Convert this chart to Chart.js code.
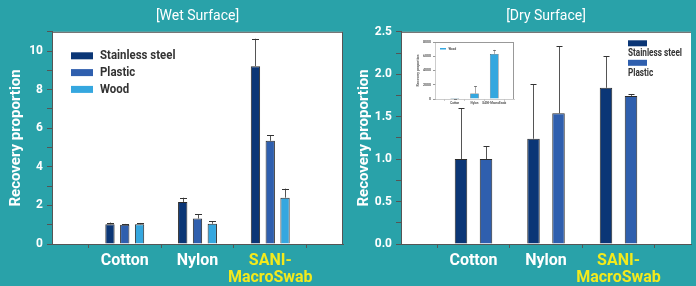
<!DOCTYPE html>
<html>
<head>
<meta charset="utf-8">
<script src="https://cdn.jsdelivr.net/npm/chart.js@4.4.1/dist/chart.umd.min.js"></script>
<style>
  html, body { margin: 0; padding: 0; background: #29a2a9; }
  #wrap { position: relative; width: 696px; height: 286px; background: #29a2a9; overflow: hidden; }
  canvas { position: absolute; }
  #wet { left: 0; top: 0; }
  #dry { left: 348px; top: 0; }
  #inset { left: 410px; top: 36px; }
</style>
</head>
<body>
<div id="wrap">
  <canvas id="wet" width="348" height="286"></canvas>
  <canvas id="dry" width="348" height="286"></canvas>
  <canvas id="inset" width="110" height="72"></canvas>
</div>
<script>
// blank slots at both ends so the three swabs sit at 1/4, 2/4, 3/4 of the axis
const categories = ['', 'Cotton', 'Nylon', ['SANI-', 'MacroSwab'], '']
const insetCategories = ['', 'Cotton', 'Nylon', 'SANI-MacroSwab', '']

const wetSteel = [null, 1.02, 2.18, 9.22, null]
const wetSteelErr = [null, 0.09, 0.22, 1.42, null]
const wetPlastic = [null, 1.0, 1.32, 5.35, null]
const wetPlasticErr = [null, 0.04, 0.23, 0.28, null]
const wetWood = [null, 1.02, 1.05, 2.4, null]
const wetWoodErr = [null, 0.07, 0.12, 0.47, null]

const drySteel = [null, 1.0, 1.24, 1.84, null]
const drySteelErr = [null, 0.6, 0.64, 0.37, null]
const dryPlastic = [null, 1.0, 1.54, 1.745, null]
const dryPlasticErr = [null, 0.15, 0.79, 0.02, null]

const dryWood = [null, 1, 760, 6330, null]
const dryWoodErr = [null, 0, 1040, 560, null]

const STEEL = '#0b3676'
const PLASTIC = '#2f5fae'
const WOOD = '#35a7df'
const AXIS = '#555555'
const FONT = 'Roboto, "DejaVu Sans", sans-serif'

// white plot background + frame lines
const plotFrame = {
  id: 'plotFrame',
  beforeDraw(chart, args, opts) {
    const { ctx, chartArea: a } = chart
    ctx.save()
    ctx.fillStyle = '#ffffff'
    ctx.fillRect(a.left, a.top, a.right - a.left, a.bottom - a.top)
    ctx.restore()
  },
  afterDraw(chart, args, opts) {
    const { ctx, chartArea: a } = chart
    ctx.save()
    ctx.strokeStyle = opts.color || AXIS
    ctx.lineWidth = 1
    ctx.beginPath()
    ctx.moveTo(a.left, a.top + 0.5)
    ctx.lineTo(a.right, a.top + 0.5)
    if (opts.right) {
      ctx.moveTo(a.right - 0.5, a.top)
      ctx.lineTo(a.right - 0.5, a.bottom)
    }
    ctx.stroke()
    ctx.restore()
  }
}

// upward error bars, read from dataset.errors
const errorBars = {
  id: 'errorBars',
  afterDatasetsDraw(chart, args, opts) {
    const { ctx } = chart
    const y = chart.scales.y
    ctx.save()
    chart.data.datasets.forEach((ds, di) => {
      const meta = chart.getDatasetMeta(di)
      if (!ds.errors || meta.hidden) return
      meta.data.forEach((bar, i) => {
        const v = ds.data[i]
        const e = ds.errors[i]
        if (v == null || e == null) return
        const top = y.getPixelForValue(v + e)
        const x = Math.round(bar.x) + 0.5
        ctx.strokeStyle = opts.lineColor
        ctx.lineWidth = opts.width
        ctx.beginPath()
        ctx.moveTo(x, bar.y)
        ctx.lineTo(x, top)
        ctx.stroke()
        ctx.strokeStyle = opts.capColor
        ctx.beginPath()
        ctx.moveTo(x - opts.cap / 2, Math.round(top) + 0.5)
        ctx.lineTo(x + opts.cap / 2, Math.round(top) + 0.5)
        ctx.stroke()
      })
    })
    ctx.restore()
  }
}

// legend drawn inside the plot area (text squeezed a bit, the original uses a condensed face)
const boxLegend = {
  id: 'boxLegend',
  afterDraw(chart, args, o) {
    const { ctx, chartArea: a } = chart
    ctx.save()
    ctx.font = o.font
    ctx.textBaseline = 'middle'
    ctx.textAlign = 'left'
    chart.data.datasets.forEach((ds, i) => {
      const bx = a.left + o.x
      const by = a.top + o.y + i * o.row
      ctx.fillStyle = ds.backgroundColor
      ctx.fillRect(bx, by, o.boxW, o.boxH)
      ctx.fillStyle = o.color
      const tx = o.below ? bx : bx + o.boxW + o.gap
      const ty = o.below ? by + o.boxH + o.gap : by + o.boxH / 2
      ctx.save()
      ctx.translate(tx, ty)
      ctx.scale(o.sx || 1, 1)
      ctx.fillText(ds.label, 0, 0)
      ctx.restore()
    })
    ctx.restore()
  }
}

function barSet(label, data, errors, color, border) {
  return {
    label: label,
    data: data,
    errors: errors,
    backgroundColor: color,
    borderColor: '#2b2b2b',
    borderWidth: border
  }
}

function mainOptions(title, max, step, major, yWidth, padRight, legend, catPct, barPct, cap) {
  return {
    responsive: false,
    animation: false,
    devicePixelRatio: 1,
    layout: { padding: { top: 0, right: padRight, left: 0, bottom: 0 } },
    datasets: { bar: { categoryPercentage: catPct, barPercentage: barPct } },
    scales: {
      x: {
        offset: false,
        afterFit: s => { s.height = 42 },
        border: { color: AXIS, width: 1 },
        grid: { display: true, drawOnChartArea: false, tickLength: 4, color: AXIS },
        ticks: {
          autoSkip: false,
          maxRotation: 0,
          padding: 5,
          color: c => c.index === 3 ? '#f3ea1c' : '#ffffff',
          font: { family: FONT, size: 16, weight: 'bold', lineHeight: 1.05 }
        }
      },
      y: {
        min: 0,
        max: max,
        afterFit: s => { s.width = yWidth },
        border: { color: AXIS, width: 1 },
        grid: { display: true, drawOnChartArea: false, tickLength: 5, color: AXIS },
        ticks: {
          stepSize: step,
          padding: 4,
          color: '#ffffff',
          font: { family: FONT, size: 12, weight: 'bold' },
          callback: v => {
            const r = v / major
            if (Math.abs(r - Math.round(r)) > 1e-6) return ''
            return major < 1 ? v.toFixed(1) : String(v)
          }
        },
        title: {
          display: true,
          text: 'Recovery proportion',
          color: '#ffffff',
          padding: { top: 7, bottom: 0 },
          font: { family: FONT, size: 15, weight: 'bold' }
        }
      }
    },
    plugins: {
      legend: { display: false },
      tooltip: { enabled: false },
      title: {
        display: true,
        text: title,
        fullSize: false,
        color: '#ffffff',
        padding: { top: 8, bottom: 7 },
        font: { family: FONT, size: 14, weight: 'normal' }
      },
      plotFrame: { right: padRight > 0 },
      errorBars: { lineColor: '#555555', capColor: '#333333', width: 1, cap: cap },
      boxLegend: legend
    }
  }
}

new Chart(document.getElementById('wet'), {
  type: 'bar',
  data: {
    labels: categories,
    datasets: [
      barSet('Stainless steel', wetSteel, wetSteelErr, STEEL, 1),
      barSet('Plastic', wetPlastic, wetPlasticErr, PLASTIC, 1),
      barSet('Wood', wetWood, wetWoodErr, WOOD, 1)
    ]
  },
  options: mainOptions('[Wet Surface]', 11, 1, 2, 52, 1, {
    x: 19, y: 20.5, row: 16.8, boxW: 22, boxH: 7, gap: 7, below: false, sx: 0.88,
    font: 'bold 13px ' + FONT, color: '#333333'
  }, 0.61, 0.63, 7),
  plugins: [plotFrame, errorBars, boxLegend]
})

new Chart(document.getElementById('dry'), {
  type: 'bar',
  data: {
    labels: categories,
    datasets: [
      barSet('Stainless steel', drySteel, drySteelErr, STEEL, 1),
      barSet('Plastic', dryPlastic, dryPlasticErr, PLASTIC, 1)
    ]
  },
  options: mainOptions('[Dry Surface]', 2.5, 0.25, 0.5, 53, 0, {
    x: 227, y: 8.5, row: 19.5, boxW: 19, boxH: 6, gap: 7.5, below: true, sx: 0.78,
    font: 'bold 10.5px ' + FONT, color: '#333333'
  }, 0.69, 0.5, 6),
  plugins: [plotFrame, errorBars, boxLegend]
})

// small inset with the wood results on the dry surface
new Chart(document.getElementById('inset'), {
  type: 'bar',
  data: {
    labels: insetCategories,
    datasets: [barSet('Wood', dryWood, dryWoodErr, WOOD, 0.5)]
  },
  options: {
    responsive: false,
    animation: false,
    devicePixelRatio: 1,
    layout: { padding: { top: 6, right: 6, left: 0, bottom: 0 } },
    datasets: { bar: { categoryPercentage: 0.44, barPercentage: 1 } },
    scales: {
      x: {
        offset: false,
        afterFit: s => { s.height = 9 },
        border: { color: '#999999', width: 0.5 },
        grid: { display: true, drawOnChartArea: false, tickLength: 1.5, color: '#999999' },
        ticks: {
          autoSkip: false,
          maxRotation: 0,
          padding: 1,
          color: '#555555',
          font: { family: FONT, size: 3, weight: 'bold' }
        }
      },
      y: {
        min: 0,
        max: 8000,
        afterFit: s => { s.width = 25 },
        border: { color: '#999999', width: 0.5 },
        grid: { display: true, drawOnChartArea: false, tickLength: 2, color: '#999999' },
        ticks: {
          stepSize: 1000,
          padding: 2,
          color: '#555555',
          font: { family: FONT, size: 3.5, weight: 'bold' },
          callback: v => v % 2000 === 0 ? String(v) : ''
        },
        title: {
          display: true,
          text: 'Recovery proportion',
          color: '#555555',
          padding: { top: 6, bottom: 0 },
          font: { family: FONT, size: 3.5, weight: 'bold' }
        }
      }
    },
    plugins: {
      legend: { display: false },
      tooltip: { enabled: false },
      plotFrame: { right: true, color: '#999999' },
      errorBars: { lineColor: '#888888', capColor: '#555555', width: 0.7, cap: 3 },
      boxLegend: {
        x: 5, y: 6, row: 5, boxW: 6, boxH: 1.5, gap: 2.5, below: false,
        font: 'bold 3px ' + FONT, color: '#555555'
      }
    }
  },
  plugins: [plotFrame, errorBars, boxLegend]
})
</script>
</body>
</html>
